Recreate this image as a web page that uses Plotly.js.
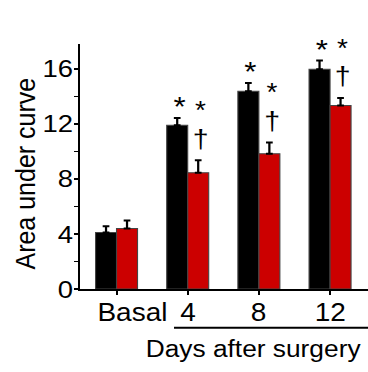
<!DOCTYPE html>
<html><head><meta charset="utf-8">
<script src="https://cdn.plot.ly/plotly-3.0.1.min.js"></script>
<style>
html,body{margin:0;padding:0;background:#fff;overflow:hidden}
#chart{width:328.57px;height:372px;transform:scaleX(1.12);transform-origin:0 0}
</style>
</head><body><div id="chart"></div>
<script>
// ---- data ----
const categories = ['Basal', '4', '8', '12'];
const tickLabels = ['Basal', '4', '8', '12'];
const controlValues = [4.1, 11.9, 14.37, 15.96];
const controlErrors = [0.46, 0.53, 0.6, 0.65];
const treatedValues = [4.39, 8.45, 9.83, 13.33];
const treatedErrors = [0.58, 0.9, 0.82, 0.55];
const controlMarks = ['', '*', '*', '*'];
const treatedMarks = ['', '*', '*', '*'];
const treatedDaggers = ['', '\u2020', '\u2020', '\u2020'];
const yTitle = 'Area under curve';
const xTitle = 'Days after surgery';

// ---- styling ----
const FONT = 'Liberation Sans, Arial, Helvetica, sans-serif';
const SX = 1.12;                 // horizontal stretch of the reference figure
const W = 368 / SX;
const BAR_PX = 21 / SX;
const LABEL_SHIFT = [16.5, 0, 0, 0];   // px offsets of the category labels
const positions = categories.map((c, i) => i);

const traces = [
  {
    type: 'bar', x: positions, y: controlValues, name: 'control',
    marker: {color: '#000000', line: {color: '#444444', width: 1}},
    error_y: {type: 'data', array: controlErrors, arrayminus: controlErrors.map(() => 0),
              symmetric: false, color: '#000000', thickness: 2, width: 3}
  },
  {
    type: 'bar', x: positions, y: treatedValues, name: 'treated',
    marker: {color: '#CC0000', line: {color: '#444444', width: 1}},
    error_y: {type: 'data', array: treatedErrors, arrayminus: treatedErrors.map(() => 0),
              symmetric: false, color: '#000000', thickness: 2, width: 3}
  }
];

const annotations = [];
positions.forEach((p, i) => {
  annotations.push({
    x: p, y: -0.03, xref: 'x', yref: 'paper', text: tickLabels[i], showarrow: false,
    xshift: LABEL_SHIFT[i] / SX, xanchor: 'center', yanchor: 'top',
    font: {family: FONT, size: 25, color: '#000'}
  });
  if (controlMarks[i]) annotations.push({
    x: p, y: controlValues[i] + controlErrors[i], xref: 'x', yref: 'y',
    text: controlMarks[i], showarrow: false, xshift: -BAR_PX / 2 + 2.5 / SX, yshift: 11,
    yanchor: 'middle', font: {family: FONT, size: 28, color: '#000'}
  });
  if (treatedMarks[i]) annotations.push({
    x: p, y: treatedValues[i] + treatedErrors[i], xref: 'x', yref: 'y',
    text: treatedMarks[i], showarrow: false, xshift: BAR_PX / 2 + 2.5 / SX, yshift: 50,
    yanchor: 'middle', font: {family: FONT, size: 25, color: '#000'}
  });
  if (treatedDaggers[i]) annotations.push({
    x: p, y: treatedValues[i] + treatedErrors[i], xref: 'x', yref: 'y',
    text: treatedDaggers[i], showarrow: false, xshift: BAR_PX / 2 + 2.5 / SX, yshift: 21.5,
    yanchor: 'middle', font: {family: FONT, size: 25.5, color: '#000'}
  });
});
annotations.push({
  text: xTitle, xref: 'paper', yref: 'paper', x: 0.599, y: -0.243,
  xanchor: 'center', yanchor: 'middle', showarrow: false,
  font: {family: FONT, size: 23.5, color: '#000'}
});
annotations.push({
  text: yTitle, xref: 'paper', yref: 'paper', x: -0.191, y: 0.47, textangle: -90,
  xanchor: 'center', yanchor: 'middle', showarrow: false,
  font: {family: FONT, size: 25, color: '#000'}
});

const layout = {
  width: W, height: 372,
  margin: {l: 79 / SX, r: 0, t: 44, b: 82.7, pad: 0},
  paper_bgcolor: '#fff', plot_bgcolor: '#fff',
  showlegend: false,
  barmode: 'group', bargap: 0.41, bargroupgap: 0,
  font: {family: FONT, color: '#000'},
  xaxis: {
    range: [-0.52, 3.54],
    tickmode: 'array', tickvals: positions, showticklabels: false,
    showline: true, linecolor: '#000', linewidth: 2,
    ticks: 'outside', ticklen: 4, tickwidth: 1.8, tickcolor: '#000',
    showgrid: false, zeroline: false, fixedrange: true
  },
  yaxis: {
    range: [0, 17.8], tick0: 0, dtick: 4,
    showline: true, linecolor: '#000', linewidth: 1.4,
    ticks: 'outside', ticklen: 4 / SX, tickwidth: 1.6, tickcolor: '#000',
    minor: {ticks: 'outside', dtick: 2, tick0: 0, ticklen: 4 / SX, tickwidth: 1.6, tickcolor: '#000', showgrid: false},
    ticklabelstandoff: -4,
    tickfont: {family: FONT, size: 24.5, color: '#000'},
    showgrid: false, zeroline: false, fixedrange: true
  },
  shapes: [{
    type: 'line', xref: 'paper', yref: 'paper', x0: 0.327, x1: 1.0, y0: -0.158, y1: -0.158,
    line: {color: '#000', width: 2}
  }],
  annotations: annotations
};

Plotly.newPlot('chart', traces, layout, {displayModeBar: false, staticPlot: true});
</script>
</body></html>
